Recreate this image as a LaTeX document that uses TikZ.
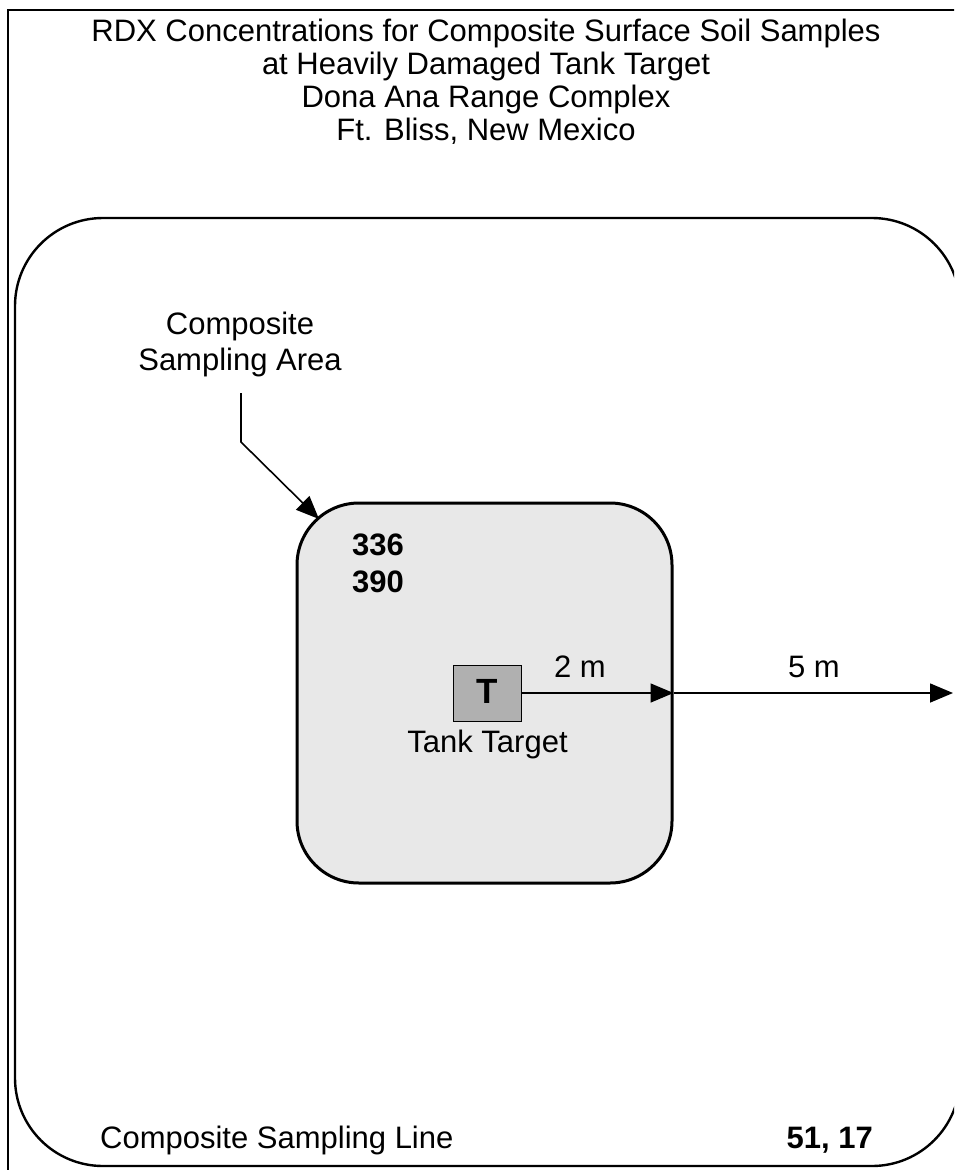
\documentclass[tikz,border=0pt]{standalone}
\usepackage{fontspec}
\setmainfont{Liberation Sans}
\usetikzlibrary{arrows.meta}
\tikzset{
  lbl/.style={inner sep=0pt, anchor=base, font=\fontsize{31}{36}\selectfont},
  num/.style={inner sep=0pt, anchor=base west, font=\fontsize{31}{36}\selectfont\bfseries},
  tip/.style={-{Triangle[length=23pt,width=19pt]}, line width=1.6pt},
}
\begin{document}
\begin{tikzpicture}[x=1pt,y=-1pt]
\useasboundingbox (0,0) rectangle (954,1170);
\clip (0,0) rectangle (954,1170);
% outer frame
\draw[line width=2pt] (8,1180) -- (8,10) -- (970,10);
% title
\node[lbl] (t1) at (486,41) {RDX Concentrations for Composite Surface Soil Samples};
\node[lbl] (t2) at (486,74) {at Heavily Damaged Tank Target};
\node[lbl] (t3) at (486,107) {Dona Ana Range Complex};
\node[lbl] (t4) at (486,140) {Ft. Bliss, New Mexico};
% big sampling line rectangle
\node[draw, line width=2.4pt, rounded corners=88pt, minimum width=945pt, minimum height=948pt, inner sep=0pt] (line) at (487.5,692) {};
% composite sampling area
\node[draw, line width=3pt, rounded corners=62pt, fill=gray!18, minimum width=375pt, minimum height=380pt, inner sep=0pt] (area) at (484.5,693) {};
% tank target
\node[draw, line width=1pt, fill=gray!62, minimum width=68pt, minimum height=56pt, inner sep=0pt] (tank) at (487,693) {};
\node[inner sep=0pt, anchor=base, font=\fontsize{35}{36}\selectfont\bfseries] (tlet) at (487,703) {T};
\node[lbl] (tanklbl) at (487.5,752) {Tank Target};
% values
\node[num] (v1) at (352,555) {336};
\node[num] (v1b) at (352,592) {390};
% arrows
\coordinate (areaE) at (area.east |- tank.east);
\coordinate (far) at (953,693);
\draw[tip] (tank.east) -- (areaE);
\draw[tip] (areaE) -- (far);
\node[lbl] (two) at (580,677) {2 m};
\node[lbl] (five) at (814,677) {5 m};
% area label and leader
\node[lbl] (arealbl1) at (240,334) {Composite};
\node[lbl] (arealbl2) at (240,370) {Sampling Area};
\coordinate (lstart) at (241,393);
\coordinate (bend) at (241,442);
\coordinate (ltip) at (319,519);
\draw[tip] (lstart) -- (bend) -- (ltip);
% bottom labels
\node[lbl, anchor=base west] (linelbl) at (100,1148) {Composite Sampling Line};
\node[num, anchor=base east] (v2) at (873,1148) {51, 17};
\end{tikzpicture}
\end{document}
